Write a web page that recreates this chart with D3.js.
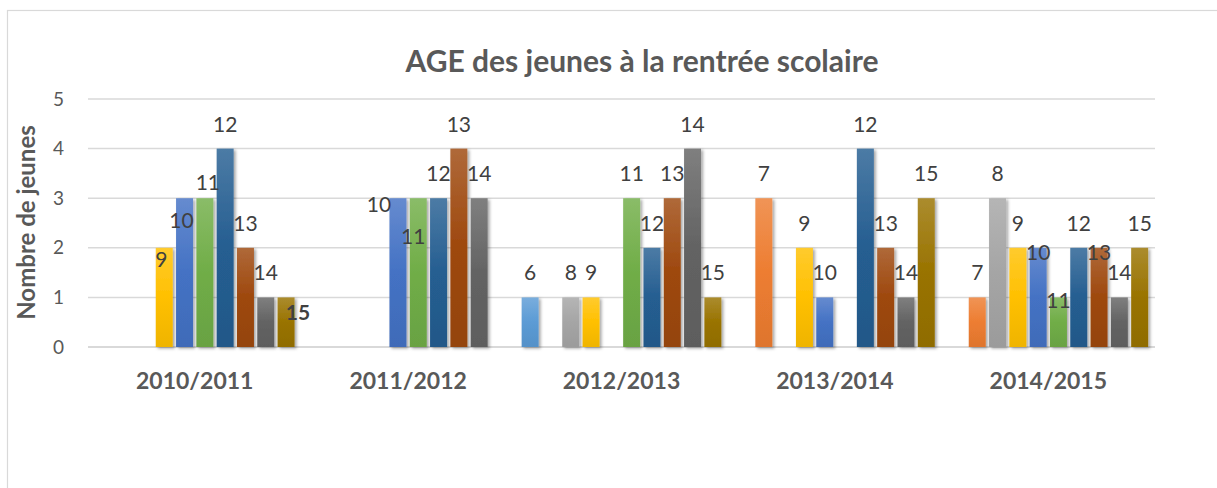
<!DOCTYPE html>
<html>
<head>
<meta charset="utf-8">
<script src="https://cdn.jsdelivr.net/npm/d3@7"></script>
<style>
  html, body { margin: 0; padding: 0; background: #ffffff; }
  svg { display: block; }
</style>
</head>
<body>
<svg id="chart" width="1217" height="488"></svg>
<script>
// ---------- DATA ----------
const categories = ["2010/2011", "2011/2012", "2012/2013", "2013/2014", "2014/2015"];
const ages = ["6", "7", "8", "9", "10", "11", "12", "13", "14", "15"];
// number of young people per age (series) for each school year (category)
const age6  = [0, 0, 1, 0, 0];
const age7  = [0, 0, 0, 3, 1];
const age8  = [0, 0, 1, 0, 3];
const age9  = [2, 0, 1, 2, 2];
const age10 = [3, 3, 0, 1, 2];
const age11 = [3, 3, 3, 0, 1];
const age12 = [4, 3, 2, 4, 2];
const age13 = [2, 4, 3, 2, 2];
const age14 = [1, 3, 4, 1, 1];
const age15 = [1, 0, 1, 3, 2];
const yTicks = [0, 1, 2, 3, 4, 5];
const chartTitle = "AGE des jeunes à la rentrée scolaire";
const yTitle = "Nombre de jeunes";

const seriesValues = [age6, age7, age8, age9, age10, age11, age12, age13, age14, age15];

// ---------- STYLE / LAYOUT ----------
const colors = ["#5B9BD5", "#ED7D31", "#A5A5A5", "#FFC000", "#4472C4",
                "#70AD47", "#255E91", "#9E480E", "#636363", "#997300"];
// manual nudges (px) of data labels that were moved in the original
const labelNudge = {
  "2010/2011|9":  [-3, 36.5],
  "2010/2011|10": [-3, 47],
  "2010/2011|11": [3, 9],
  "2010/2011|15": [12, 40],
  "2011/2012|10": [-19, 31],
  "2011/2012|11": [-5, 62.5],
  "2014/2015|10": [0, 29],
  "2014/2015|11": [0, 28],
  "2014/2015|13": [0, 29]
};
const boldLabels = new Set(["2010/2011|15"]);

const W = 1217, H = 488;
const plot = { left: 88, right: 1155, top: 99, bottom: 347 };
const FONT = "Lato, 'Open Sans', sans-serif";

const svg = d3.select("#chart");

// frame
svg.append("rect")
  .attr("x", 7.5).attr("y", 10.5)
  .attr("width", W + 20).attr("height", H + 20)
  .attr("fill", "#fff").attr("stroke", "#D9D9D9").attr("stroke-width", 1.2);

// defs: gradients + shadow
const defs = svg.append("defs");
const shadow = defs.append("filter").attr("id", "shadow")
  .attr("x", "-30%").attr("y", "-10%").attr("width", "170%").attr("height", "130%");
shadow.append("feDropShadow").attr("dx", 2).attr("dy", 1.5)
  .attr("stdDeviation", 1.8).attr("flood-color", "#000").attr("flood-opacity", 0.35);

colors.forEach((c, i) => {
  const g = defs.append("linearGradient").attr("id", "grad" + i)
    .attr("x1", 0).attr("y1", 0).attr("x2", 0).attr("y2", 1);
  g.append("stop").attr("offset", "0%").attr("stop-color", d3.interpolateRgb(c, "#ffffff")(0.18));
  g.append("stop").attr("offset", "50%").attr("stop-color", c);
  g.append("stop").attr("offset", "100%").attr("stop-color", d3.color(c).darker(0.18).formatHex());
});

// scales
const x0 = d3.scaleBand().domain(categories).range([plot.left, plot.right]).padding(0);
const x1 = d3.scaleBand().domain(ages).range([0, x0.bandwidth()])
  .paddingInner(0.163).paddingOuter(0.337);
const y = d3.scaleLinear().domain([0, 5]).range([plot.bottom, plot.top]);

// gridlines
svg.append("g").selectAll("line").data(yTicks).join("line")
  .attr("x1", plot.left).attr("x2", plot.right)
  .attr("y1", d => y(d)).attr("y2", d => y(d))
  .attr("stroke", "#D9D9D9").attr("stroke-width", d => d === 0 ? 2 : 1.5);

// y axis tick labels
const yAxis = d3.axisLeft(y).tickValues(yTicks).tickSize(0).tickPadding(24).tickFormat(d3.format("d"));
const yg = svg.append("g").attr("transform", `translate(${plot.left},0)`).call(yAxis);
yg.select(".domain").remove();
yg.selectAll("text").attr("font-family", FONT).attr("font-size", 19).attr("fill", "#595959");

// x axis category labels
const xAxis = d3.axisBottom(x0).tickSize(0).tickPadding(26);
const xg = svg.append("g").attr("transform", `translate(0,${plot.bottom})`).call(xAxis);
xg.select(".domain").remove();
xg.selectAll("text").attr("font-family", FONT).attr("font-size", 23)
  .attr("font-weight", "bold").attr("fill", "#595959");

// bars
const flat = [];
categories.forEach((cat, ci) => {
  ages.forEach((a, si) => {
    flat.push({ cat, age: a, si, v: seriesValues[si][ci] });
  });
});

const barData = flat.filter(d => d.v > 0);
svg.append("g").selectAll("rect").data(barData).join("rect")
  .attr("x", d => x0(d.cat) + x1(d.age))
  .attr("y", d => y(d.v))
  .attr("width", x1.bandwidth())
  .attr("height", d => y(0) - y(d.v))
  .attr("fill", d => `url(#grad${d.si})`)
  .attr("filter", "url(#shadow)");

// data labels (show the series name = age)
svg.append("g").selectAll("text").data(barData).join("text")
  .attr("x", d => x0(d.cat) + x1(d.age) + x1.bandwidth() / 2 + (labelNudge[d.cat + "|" + d.age] || [0, 0])[0])
  .attr("y", d => y(d.v) - 24.5 + (labelNudge[d.cat + "|" + d.age] || [0, 0])[1])
  .attr("dy", "0.36em")
  .attr("text-anchor", "middle")
  .attr("font-family", FONT)
  .attr("font-size", 21)
  .attr("font-weight", d => boldLabels.has(d.cat + "|" + d.age) ? "bold" : "normal")
  .attr("fill", "#404040")
  .text(d => d.age);

// title
svg.append("text")
  .attr("x", 642).attr("y", 71.5)
  .attr("text-anchor", "middle")
  .attr("font-family", FONT).attr("font-size", 30).attr("font-weight", "bold")
  .attr("fill", "#595959")
  .text(chartTitle);

// y axis title
svg.append("text")
  .attr("transform", `translate(35,${222.5}) rotate(-90)`)
  .attr("text-anchor", "middle")
  .attr("font-family", FONT).attr("font-size", 24).attr("font-weight", "bold")
  .attr("fill", "#595959")
  .text(yTitle);
</script>
</body>
</html>
